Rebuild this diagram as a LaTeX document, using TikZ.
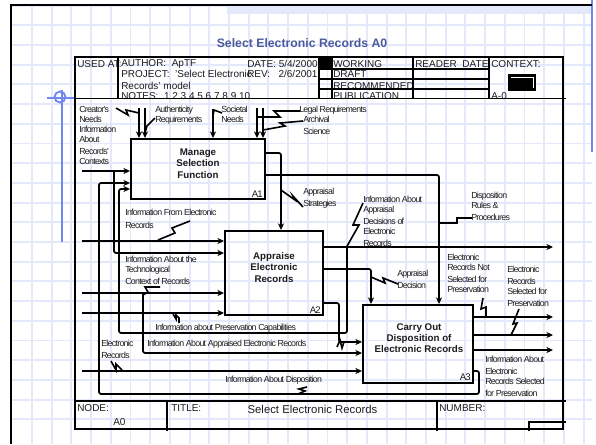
\documentclass[tikz,border=0pt]{standalone}
\usepackage{fontspec}
\setmainfont{Liberation Sans}
\newfontfamily\labf[LetterSpace=-8]{Liberation Sans}
\usetikzlibrary{arrows.meta}
\definecolor{gridc}{HTML}{E4E8FB}
\definecolor{bluec}{HTML}{7088EE}
\definecolor{titlec}{HTML}{4A5A9C}
\definecolor{inkc}{HTML}{1C1C1C}
\tikzset{
  gridline/.style={gridc,line width=1.4pt},
  blueline/.style={bluec,line width=1.4pt},
  frameline/.style={black,line width=1.3pt},
  fboxs/.style={draw=black,line width=1.5pt,inner sep=0pt},
  conn/.style={black,line width=1.3pt,rounded corners=1.6pt},
  arr/.style={conn,-{Stealth[length=5pt,width=4.6pt]}},
  squig/.style={black,line width=1.2pt},
  lab/.style={font=\labf\fontsize{6.6}{7.5}\selectfont,text=inkc,inner sep=0pt,anchor=north west,align=left},
  head/.style={font=\fontsize{7.5}{9}\selectfont,text=inkc,inner sep=0pt,anchor=west,yshift=-0.8pt},
  boxt/.style={font=\fontsize{7.3}{8.4}\selectfont\bfseries,text=inkc,inner sep=0pt,align=center},
  tag/.style={font=\labf\fontsize{7.2}{8}\selectfont,text=inkc,inner sep=0pt,anchor=east},
}
\begin{document}
\begin{tikzpicture}[x=0.75pt,y=-0.75pt]
\useasboundingbox (0,0) rectangle (596,444);
\fill[white] (0,0) rectangle (596,444);
% grid
\fill[gridc] (227,5) rectangle (592,14);
\foreach \k in {0,...,28} {\draw[gridline] ({32+19.7*\k},5) -- ({32+19.7*\k},444);}
\foreach \k in {0,...,21} {\draw[gridline] (11,{5.6+19.7*\k}) -- (592,{5.6+19.7*\k});}
% sheet edges
\draw[blueline] (592,0) -- (592,152);
\draw[frameline] (11,444) -- (11,5) -- (592,5);
\draw[blueline] (47,98) -- (75,98);
\draw[blueline] (62,90) -- (62,242);
\draw[blueline] (60,97) circle (5.5);
\node[font=\fontsize{9.2}{10}\selectfont\bfseries,text=titlec,inner sep=0pt] (title) at (302,43) {Select Electronic Records A0};
% header text
\node[head] (usedat) at (77,63) {USED AT:};
\node[head] (author) at (121,63) {AUTHOR:\ \ ApTF};
\node[head] (project) at (121,73) {PROJECT:\ \ 'Select Electronic};
\node[head] (model) at (121,85) {Records' model};
\node[head] (notes) at (121,95) {NOTES:\ \ 1 2 3 4 5 6 7 8 9 10};
\node[head] (date) at (247,63) {DATE: 5/4/2000};
\node[head] (rev) at (247,73) {REV:\ \ \ 2/6/2001};
\node[head] (working) at (333,63) {WORKING};
\node[head] (draft) at (333,73) {DRAFT};
\node[head] (recom) at (333,85) {RECOMMENDED};
\node[head] (publ) at (333,95) {PUBLICATION};
\node[head] (reader) at (415,63) {READER\ \ DATE};
\node[head] (context) at (491,63) {CONTEXT:};
\node[head] (aminus) at (491,95) {A-0};
% title block rules
\draw[frameline] (75,57) rectangle (563,429);
\draw[frameline] (75,98.5) -- (566,98.5);
\draw[frameline] (117.7,57) -- (117.7,98.5);
\foreach \xx in {319,332,413,489} {\draw[frameline] (\xx,57) -- (\xx,98.5);}
\foreach \yy in {69,79,89} {\draw[frameline] (319,\yy) -- (489,\yy);}
\fill[black] (320,58) rectangle (331,69);
\fill[black] (508,74) rectangle (536,91);
\draw[white,line width=0.6pt] (511,77) -- (533,77) -- (533,88);
\draw[frameline] (75,401) -- (566,401);
\draw[frameline] (167,401) -- (167,431);
\draw[frameline] (437,401) -- (437,431);
\draw[frameline] (529,431) -- (529,422) -- (566,422);
\node[head] (nodel) at (77,407) {NODE:};
\node[head] (nodev) at (113,421) {A0};
\node[head] (titlel) at (171,407) {TITLE:};
\node[font=\fontsize{8.5}{10}\selectfont,text=inkc,inner sep=0pt] (titlev) at (312.5,409) {Select Electronic Records};
\node[head] (numl) at (439,407) {NUMBER:};
% activity boxes
\node[fboxs,minimum width=100.5pt,minimum height=45pt] (A1) at (198,169) {};
\node[fboxs,minimum width=73.5pt,minimum height=63pt] (A2) at (274,273) {};
\node[fboxs,minimum width=82.5pt,minimum height=58.5pt] (A3) at (418,344) {};
\node[boxt] (t1) at (198,163.5) {Manage\\Selection\\Function};
\node[boxt] (t2) at (274,267.5) {Appraise\\Electronic\\Records};
\node[boxt] (t3) at (419,338) {Carry Out\\Disposition of\\Electronic Records};
\node[tag] (a1) at (263,194) {A1};
\node[tag] (a2) at (321,310) {A2};
\node[tag] (a3) at (471,377) {A3};
% free ends
\coordinate (ctl1) at (139,108);
\coordinate (ctl2) at (145,108);
\coordinate (ctl3) at (213,109);
\coordinate (ctl4) at (257,108);
\coordinate (ctl5) at (263,108);
\coordinate (in1) at (82,171);
\coordinate (in2) at (82,241);
\coordinate (in3) at (82,293);
\coordinate (in4) at (82,313);
\coordinate (in5) at (82,371);
\coordinate (out1) at (553,247);
\coordinate (out2) at (553,317);
\coordinate (out3) at (553,335);
\coordinate (out4) at (553,350);
% controls
\draw[arr] (ctl1) -- (ctl1 |- A1.north);
\draw[arr] (ctl2) -- (ctl2 |- A1.north);
\draw[arr] (ctl3) -- (ctl3 |- A1.north);
\draw[arr] (ctl4) -- (ctl4 |- A1.north);
\draw[arr] (ctl5) -- (ctl5 |- A1.north);
% A1 inputs
\draw[arr] (in1) -- (in1 -| A1.west);
\draw[arr] (114,171) -- (114,253) -- (A2.west |- 0,253);
\draw[arr] (A3.east |- 0,371) -- (479,371) -- (479,394) -- (99,394) -- (99,183) -- (A1.west |- 0,183);
\draw[arr] (347,247) -- (347,333) -- (119,333) -- (119,189) -- (A1.west |- 0,189);
% A1 outputs
\draw[arr] (A1.east |- 0,153) -- (281,153) -- (281,0 |- A2.north);
\draw[arr] (A1.east |- 0,175) -- (439,175) -- (439,0 |- A3.north);
% A2 inputs
\draw[arr] (in2) -- (in2 -| A2.west);
\draw[arr] (in3) -- (in3 -| A2.west);
\draw[arr] (in4) -- (in4 -| A2.west);
\draw[arr] (143,293) -- (143,353) -- (A3.west |- 0,353);
% A2 outputs
\draw[arr] (A2.east |- out1) -- (out1);
\draw[arr] (A2.east |- 0,269) -- (371,269) -- (371,0 |- A3.north);
\draw[arr] (A2.east |- 0,303) -- (339,303) -- (339,342) -- (A3.west |- 0,342);
% A3 inputs and outputs
\draw[arr] (in5) -- (in5 -| A3.west);
\draw[arr] (A3.east |- out2) -- (out2);
\draw[arr] (A3.east |- out3) -- (out3);
\draw[arr] (A3.east |- out4) -- (out4);
% squiggles
\draw[squig] (116,108) -- (128,115) -- (126,110) -- (139,113);
\draw[squig] (145,133) -- (147,126) -- (155,118);
\draw[squig] (213,116) -- (214,110) -- (222,113);
\draw[squig] (257,117) -- (280,117) -- (274,111) -- (300,111);
\draw[squig] (263,130) -- (285,126) -- (280,123) -- (303,121);
\draw[squig] (281,190) -- (295,200) -- (293,196) -- (303,207);
\draw[squig] (158,240) -- (175,233) -- (172,228) -- (190,221);
\draw[squig] (160,287) -- (145,287) -- (148,292) -- (143,295);
\draw[squig] (173,314) -- (176,319) -- (176,315) -- (179,318) -- (179,323);
\draw[squig] (337,347) -- (340,340) -- (342,348) -- (344,342);
\draw[squig] (111,361) -- (116,370) -- (116,364) -- (122,370);
\draw[squig] (307,387) -- (299,389) -- (305,391) -- (298,394);
\draw[squig] (483,298) -- (481,309) -- (486,307) -- (486,316);
\draw[squig] (519,309) -- (513,324) -- (517,323) -- (511,335);
\draw[squig] (472,218) -- (457,218) -- (457,223) -- (440,223);
\draw[squig] (363,203) -- (353,225) -- (359,225) -- (346,248);
\draw[squig] (371,277) -- (385,283) -- (383,278) -- (398,284);
% labels
\node[lab] (l1) at (79,106) {Creator's\\Needs\\Information\\About\\[1.5pt]Records'\\Contexts};
\node[lab] (l2) at (155,106) {Authenticity\\Requirements};
\node[lab] (l3) at (221,106) {Societal\\Needs};
\node[lab] (l4) at (299,106) {Legal Requirements};
\node[lab] (l5) at (303,116) {Archival\\[1.5pt]Science};
\node[lab] (l6) at (303,188) {Appraisal\\[1.5pt]Strategies};
\node[lab] (l7) at (125,209) {Information From Electronic\\[2pt]Records};
\node[lab] (l8) at (125,256) {Information About the\\Technological\\[1.5pt]Context of Records};
\node[lab] (l9) at (155,324) {Information about Preservation Capabilities};
\node[lab] (l10) at (101,340) {Electronic\\[1.5pt]Records};
\node[lab] (l11) at (147,340) {Information About Appraised Electronic Records};
\node[lab] (l12) at (225,376) {Information About Disposition};
\node[lab] (l13) at (363,196) {Information About\\Appraisal\\[1.5pt]Decisions of\\Electronic\\[1.5pt]Records};
\node[lab] (l14) at (471,192) {Disposition\\Rules \&\\[1.5pt]Procedures};
\node[lab] (l15) at (397,270) {Appraisal\\[1.5pt]Decision};
\node[lab] (l16) at (447,254) {Electronic\\Records Not\\[1.5pt]Selected for\\Preservation};
\node[lab] (l17) at (507,266) {Electronic\\[1.5pt]Records\\Selected for\\[1.5pt]Preservation};
\node[lab] (l18) at (485,356) {Information About\\[1.5pt]Electronic\\Records Selected\\[1.5pt]for Preservation};
\end{tikzpicture}
\end{document}
